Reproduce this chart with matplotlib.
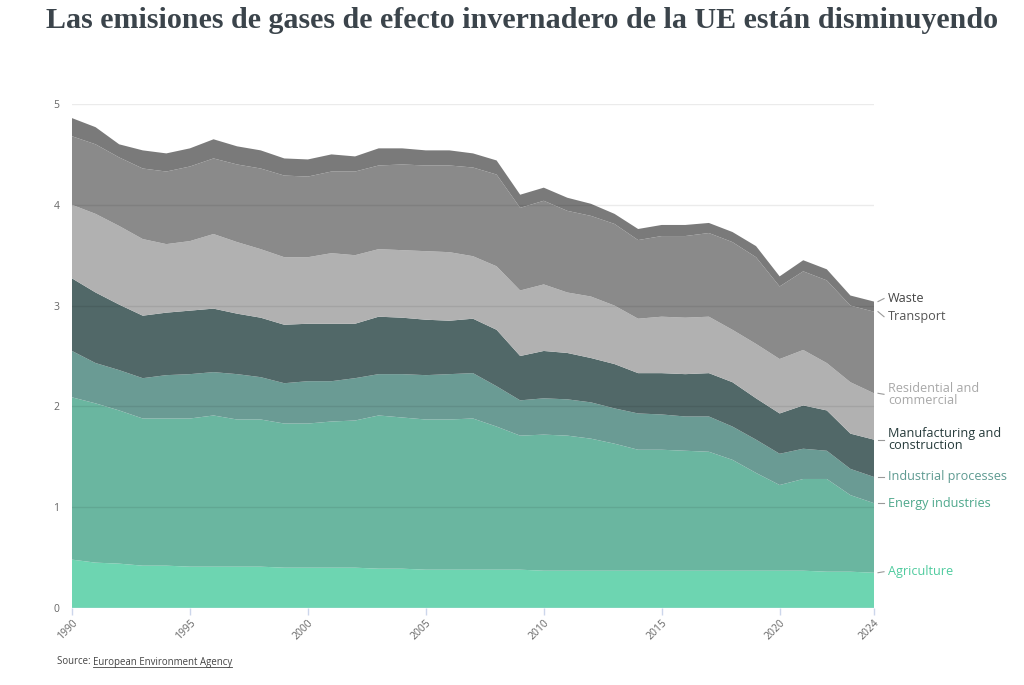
import matplotlib
matplotlib.use("Agg")
import matplotlib.pyplot as plt
import numpy as np

years = list(range(1990, 2025))

# cumulative tops, converted to per-sector values below
agriculture = [0.48, 0.45, 0.44, 0.42, 0.42, 0.41, 0.41, 0.41, 0.41, 0.40, 0.40, 0.40, 0.40, 0.39, 0.39, 0.38, 0.38,
               0.38, 0.38, 0.38, 0.37, 0.37, 0.37, 0.37, 0.37, 0.37, 0.37, 0.37, 0.37, 0.37, 0.37, 0.37, 0.36, 0.36, 0.35]
energy_top = [2.09, 2.03, 1.96, 1.88, 1.88, 1.88, 1.91, 1.87, 1.87, 1.83, 1.83, 1.85, 1.86, 1.91, 1.89, 1.87, 1.87,
              1.88, 1.80, 1.71, 1.72, 1.71, 1.68, 1.63, 1.57, 1.57, 1.56, 1.55, 1.47, 1.34, 1.22, 1.28, 1.28, 1.12, 1.04]
industrial_top = [2.55, 2.43, 2.36, 2.28, 2.31, 2.32, 2.34, 2.32, 2.29, 2.23, 2.25, 2.25, 2.28, 2.32, 2.32, 2.31, 2.32,
                  2.33, 2.20, 2.06, 2.08, 2.07, 2.04, 1.98, 1.93, 1.92, 1.90, 1.90, 1.80, 1.67, 1.53, 1.58, 1.56, 1.38, 1.30]
manufacturing_top = [3.27, 3.13, 3.01, 2.90, 2.93, 2.95, 2.97, 2.92, 2.88, 2.81, 2.82, 2.82, 2.82, 2.89, 2.88, 2.86, 2.85,
                     2.87, 2.76, 2.50, 2.55, 2.53, 2.48, 2.42, 2.33, 2.33, 2.32, 2.33, 2.24, 2.08, 1.93, 2.01, 1.96, 1.73, 1.67]
residential_top = [4.00, 3.91, 3.79, 3.66, 3.61, 3.64, 3.71, 3.63, 3.56, 3.48, 3.48, 3.52, 3.50, 3.56, 3.55, 3.54, 3.53,
                   3.49, 3.39, 3.15, 3.21, 3.13, 3.09, 3.00, 2.87, 2.89, 2.88, 2.89, 2.76, 2.62, 2.47, 2.56, 2.43, 2.24, 2.13]
transport_top = [4.68, 4.60, 4.47, 4.36, 4.33, 4.38, 4.46, 4.40, 4.36, 4.29, 4.28, 4.33, 4.33, 4.39, 4.40, 4.39, 4.39,
                 4.37, 4.30, 3.97, 4.04, 3.94, 3.89, 3.81, 3.65, 3.69, 3.69, 3.72, 3.63, 3.48, 3.19, 3.34, 3.25, 3.00, 2.94]
waste_top = [4.86, 4.77, 4.60, 4.54, 4.51, 4.56, 4.65, 4.58, 4.54, 4.46, 4.45, 4.50, 4.48, 4.56, 4.56, 4.54, 4.54,
             4.51, 4.44, 4.10, 4.17, 4.07, 4.01, 3.91, 3.76, 3.80, 3.80, 3.82, 3.73, 3.59, 3.29, 3.45, 3.36, 3.10, 3.04]

series_names = ["Agriculture", "Energy industries", "Industrial processes", "Manufacturing and\nconstruction",
                "Residential and\ncommercial", "Transport", "Waste"]
fill_colors = ["#6dd5b1", "#6ab6a0", "#6a9b94", "#516868", "#b1b1b1", "#8a8a8a", "#7a7a7a"]
label_colors = ["#4fcb9e", "#4ea88c", "#5e9a91", "#263b3b", "#a8a8a8", "#555555", "#444444"]
label_y = [0.36, 1.04, 1.30, 1.67, 2.12, 2.89, 3.07]

tops = np.array([agriculture, energy_top, industrial_top, manufacturing_top,
                 residential_top, transport_top, waste_top])
values = np.diff(np.vstack([np.zeros(len(years)), tops]), axis=0)

fig = plt.figure(figsize=(10.24, 6.85), dpi=100)
ax = fig.add_axes([72 / 1024, 1 - 608 / 685, (874 - 72) / 1024, (608 - 104) / 685])

ax.stackplot(years, values, colors=fill_colors, linewidth=0)

ax.set_xlim(1990, 2024)
ax.set_ylim(0, 5)
for yv in [1, 2, 3, 4, 5]:
    ax.axhline(yv, color="#000000", alpha=0.08, linewidth=1, zorder=5)
ax.axhline(0, color="#ccd6eb", linewidth=1, zorder=5)

for s in ax.spines.values():
    s.set_visible(False)

xt = [1990, 1995, 2000, 2005, 2010, 2015, 2020, 2024]
ax.set_xticks(xt)
ax.set_xticklabels([str(v) for v in xt], rotation=45, ha="right", rotation_mode="anchor",
                   fontsize=7.5, color="#666666", family="Open Sans")
ax.tick_params(axis="x", length=5, width=1, color="#ccd6eb", pad=2)
ax.set_yticks([0, 1, 2, 3, 4, 5])
ax.set_yticklabels(["0", "1", "2", "3", "4", "5"], fontsize=7.5, color="#666666", family="Open Sans")
ax.tick_params(axis="y", length=0, pad=9)

# right-side labels
last_tops = tops[:, -1]
for i, name in enumerate(series_names):
    y_anchor = last_tops[i]
    ly = label_y[i]
    ax.annotate(name, xy=(2024, y_anchor), xycoords="data",
                xytext=(14, (ly - y_anchor) * 100.8), textcoords="offset pixels",
                ha="left", va="center", fontsize=9.1, color=label_colors[i], family="Open Sans",
                linespacing=0.85, annotation_clip=False)
    x0 = 2024 + 4 / 23.56
    x1 = 2024 + 10 / 23.56
    ax.plot([x0, x1], [y_anchor, ly], color="#999999", linewidth=0.8, clip_on=False)

fig.text(522 / 1024, 1 - 20 / 685, "Las emisiones de gases de efecto invernadero de la UE están disminuyendo",
         ha="center", va="center", fontsize=21.6, color="#3b444b", family="Liberation Serif", weight="bold")

t1 = fig.text(57 / 1024, 1 - 662 / 685, "Source: ", ha="left", va="center", fontsize=6.9,
              color="#444444", family="Open Sans")
fig.canvas.draw()
r = fig.canvas.get_renderer()
bb = t1.get_window_extent(renderer=r)
t2 = fig.text(bb.x1 / 1024, 1 - 662 / 685, "European Environment Agency", ha="left", va="center",
              fontsize=6.9, color="#444444", family="Open Sans")
fig.canvas.draw()
bb2 = t2.get_window_extent(renderer=r)
uy = bb2.y0 + 1
fig.add_artist(plt.Line2D([bb2.x0 / 1024, bb2.x1 / 1024], [uy / 685, uy / 685], color="#444444", linewidth=0.6))

fig.savefig("out.png", dpi=100)
